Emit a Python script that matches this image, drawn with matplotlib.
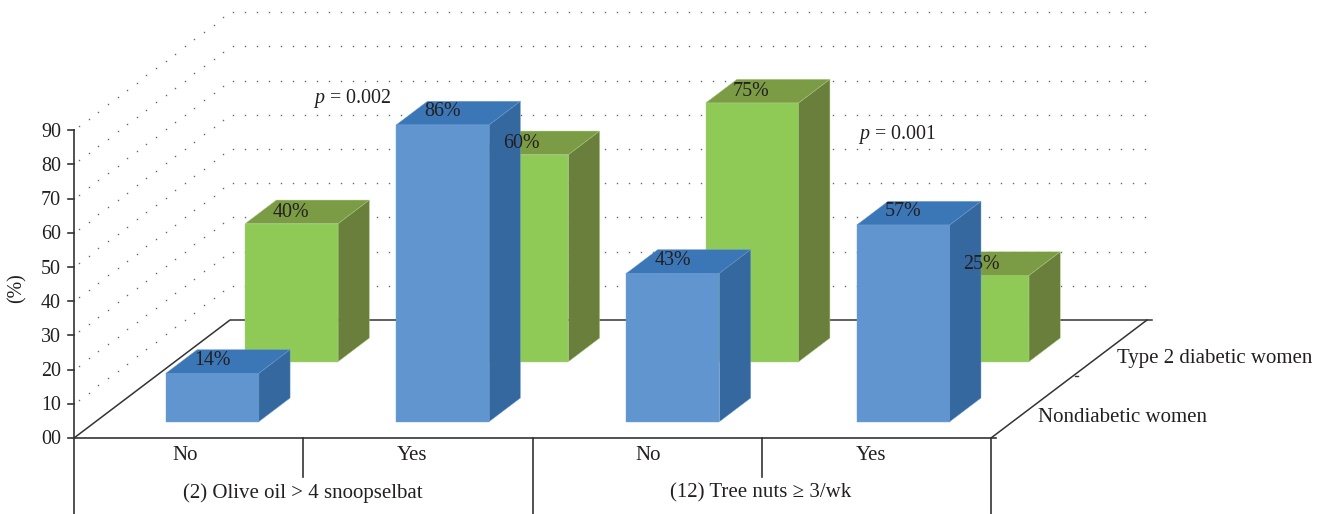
import numpy as np
import matplotlib
matplotlib.use('Agg')
import matplotlib.pyplot as plt
from matplotlib.patches import Polygon

plt.rcParams['font.family'] = ['Liberation Serif', 'DejaVu Serif']
plt.rcParams['mathtext.fontset'] = 'custom'
plt.rcParams['mathtext.rm'] = 'Liberation Serif'
plt.rcParams['mathtext.it'] = 'Liberation Serif:italic'

# Data
nondiabetic = [14, 86, 43, 57]
diabetic = [40, 60, 75, 25]
answers = ['No', 'Yes', 'No', 'Yes']
groups = ['(2) Olive oil > 4 snoopselbat', '(12) Tree nuts ≥ 3/wk']
series_names = ['Nondiabetic women', 'Type 2 diabetic women']
y_ticks = [0, 10, 20, 30, 40, 50, 60, 70, 80, 90]
y_tick_labels = ['00', '10', '20', '30', '40', '50', '60', '70', '80', '90']
p_values = ['0.002', '0.001']

# Scene geometry (the axes run in image pixels)
X0, Y0 = 74, 438
FLOOR_W = 917
DEPTH_X, DEPTH_Y = 156, -118
AXIS_SCALE = 3.42
BAR_SCALE = 3.45
STEP = 230.3
BAR_W = 93
BAR_OFFSET = 70.2
BAR_DEPTH = 0.2

TEXT = '#231f20'
LINE = '#333333'
FS_NUM = 14.4  # digits
FS = 15.0  # words
DY = 2  # text sits a little lower than va='center' puts it

fig = plt.figure(figsize=(13.32, 5.14), dpi=100)
ax = fig.add_axes([0, 0, 1, 1])
ax.set_xlim(0, 1332)
ax.set_ylim(514, 0)
ax.axis('off')


def project(x, depth, height=0.0):
    return X0 + x + depth * DEPTH_X, Y0 + depth * DEPTH_Y - height


def draw_bar(i, value, depth, front, top, side, edge):
    x1 = BAR_OFFSET + i * STEP
    x2 = x1 + BAR_W
    d2 = depth + BAR_DEPTH
    h = value * BAR_SCALE
    faces = [
        ([project(x1, depth), project(x2, depth), project(x2, depth, h), project(x1, depth, h)], front),
        ([project(x1, depth, h), project(x2, depth, h), project(x2, d2, h), project(x1, d2, h)], top),
        ([project(x2, depth), project(x2, d2), project(x2, d2, h), project(x2, depth, h)], side),
    ]
    for pts, col in faces:
        ax.add_patch(Polygon(pts, closed=True, facecolor=col, edgecolor=edge, lw=0.3, zorder=4))
    return x1, h


# Dotted grid on back and side walls
for v in y_ticks[1:]:
    h = v * AXIS_SCALE
    xs = np.arange(232.7, 1147, 12.0)
    ax.plot(xs, np.full(xs.shape, Y0 + DEPTH_Y - h), ls='', marker='s', ms=1.0,
            mew=0, color='#666666', zorder=1)
    t = np.arange(0.034, 1.0, 0.0615)
    ax.plot(X0 + t * DEPTH_X, Y0 + t * DEPTH_Y - h, ls='', marker='s', ms=1.0,
            mew=0, color='#666666', zorder=1)

# Floor outline
ax.plot([X0, X0 + DEPTH_X, X0 + DEPTH_X + FLOOR_W + 5], [Y0, Y0 + DEPTH_Y, Y0 + DEPTH_Y],
        color=LINE, lw=1.1, zorder=2)
ax.plot([X0 + FLOOR_W, X0 + FLOOR_W + DEPTH_X], [Y0, Y0 + DEPTH_Y], color=LINE, lw=1.1, zorder=2)
ax.plot([X0, X0 + FLOOR_W + 5], [Y0, Y0], color=LINE, lw=1.2, zorder=2)
ax.plot([1075, 1078], [376, 376], color=LINE, lw=1, zorder=2)

# Value axis and category dividers
ax.plot([X0, X0], [Y0 - 90 * AXIS_SCALE, 514], color=LINE, lw=1.2, zorder=2)
ax.plot([X0 + FLOOR_W, X0 + FLOOR_W], [Y0, 514], color=LINE, lw=1.2, zorder=2)
ax.plot([X0 + FLOOR_W / 2, X0 + FLOOR_W / 2], [Y0, 514], color=LINE, lw=1.2, zorder=2)
for xd in [X0 + FLOOR_W / 4, X0 + 3 * FLOOR_W / 4]:
    ax.plot([xd, xd], [Y0, 477], color=LINE, lw=1.2, zorder=2)

for v, lab in zip(y_ticks, y_tick_labels):
    y = Y0 - v * AXIS_SCALE
    ax.plot([X0 - 6, X0], [y, y], color=LINE, lw=1.2, zorder=2)
    ax.text(61, y + DY, lab, ha='right', va='center', fontsize=FS_NUM, color=TEXT)

ax.text(17, 288, '(%)', rotation=90, ha='center', va='center', fontsize=FS_NUM, color=TEXT)

# Bars: back row first, front row over it
for i, v in enumerate(diabetic):
    x1, h = draw_bar(i, v, 0.647, '#8fca57', '#7b9b45', '#6b7f3c', '#a9cf85')
    px, py = project(x1 + BAR_W / 2, 0.647, h)
    ax.text(px - 1, py - 13 + DY, f'{v}%', ha='center', va='center', fontsize=FS_NUM, color=TEXT, zorder=6)

for i, v in enumerate(nondiabetic):
    x1, h = draw_bar(i, v, 0.139, '#6195cf', '#3b76b6', '#34689f', '#6f9fd3')
    px, py = project(x1 + BAR_W / 2, 0.139, h)
    ax.text(px, py - 15 + DY, f'{v}%', ha='center', va='center', fontsize=FS_NUM, color=TEXT, zorder=6)

# Category and group labels
for xc, lab in zip([185, 412, 648, 871], answers):
    ax.text(xc, 453 + DY, lab, ha='center', va='center', fontsize=FS, color=TEXT)
for xc, lab in zip([303, 761], groups):
    ax.text(xc, 491 + DY, lab, ha='center', va='center', fontsize=FS, color=TEXT)

ax.text(1038, 415 + DY, series_names[0], ha='left', va='center', fontsize=FS, color=TEXT)
ax.text(1117, 356 + DY, series_names[1], ha='left', va='center', fontsize=FS, color=TEXT)

ax.text(313, 97 + DY, '$\\mathit{p}$ = ' + p_values[0], ha='left', va='center', fontsize=FS_NUM, color=TEXT, zorder=6)
ax.text(858, 132 + DY, '$\\mathit{p}$ = ' + p_values[1], ha='left', va='center', fontsize=FS_NUM, color=TEXT, zorder=6)

fig.savefig('out.png', dpi=100)
